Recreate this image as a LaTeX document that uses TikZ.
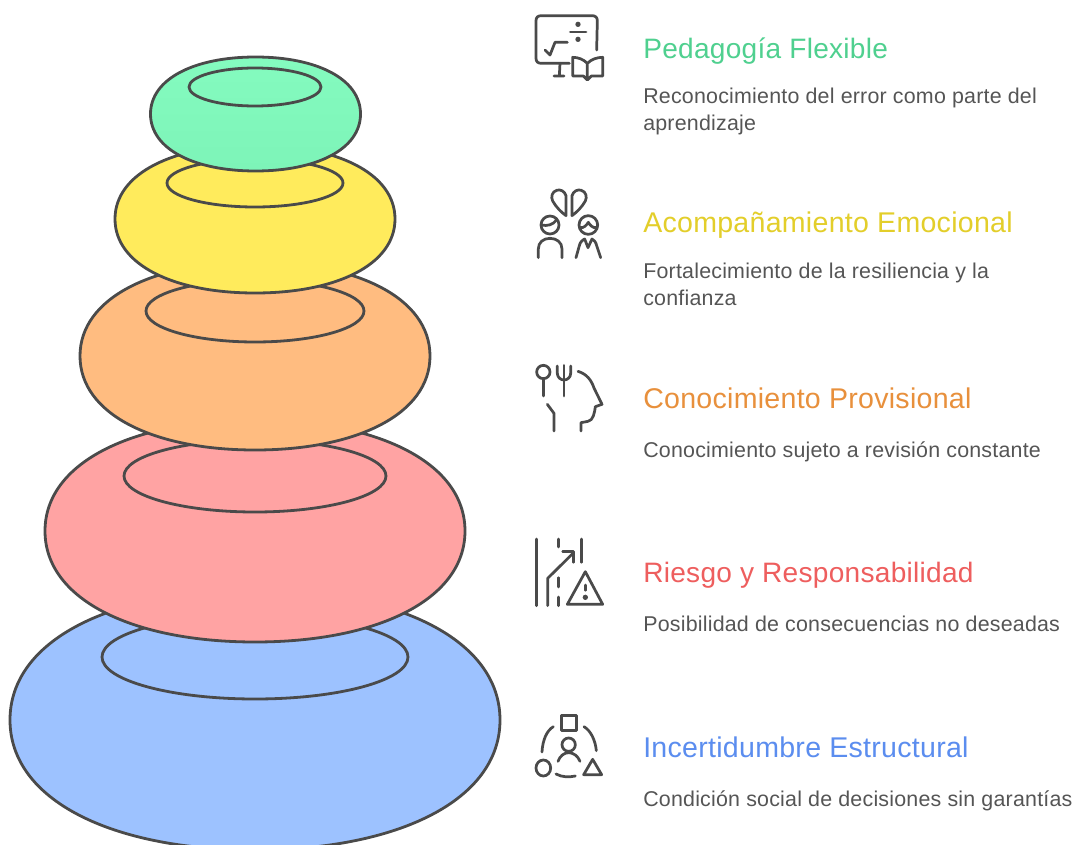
\documentclass[tikz,border=0pt]{standalone}
\usepackage{fontspec}
\setmainfont{Liberation Sans}
\newfontfamily\titlefont[LetterSpace=1.0]{Liberation Sans}
\newfontfamily\bodyfont[LetterSpace=1.0]{Liberation Sans}
\definecolor{cGreen}{HTML}{84FBBF}
\definecolor{cGreenB}{HTML}{7DF4B8}
\definecolor{cYellow}{HTML}{FFEB5C}
\definecolor{cOrange}{HTML}{FFBC80}
\definecolor{cRed}{HTML}{FFA3A3}
\definecolor{cBlue}{HTML}{9DC2FF}
\definecolor{tGreen}{HTML}{4FD08F}
\definecolor{tYellow}{HTML}{E3CE2A}
\definecolor{tOrange}{HTML}{E8903C}
\definecolor{tRed}{HTML}{EE5E5E}
\definecolor{tBlue}{HTML}{5B8DEF}
\definecolor{ink}{HTML}{4A4A4A}
\definecolor{body}{HTML}{555555}
\tikzset{
  ring/.style={draw=ink,line width=2.1pt,line join=round},
  ttl/.style={anchor=base west,inner sep=0pt,font=\titlefont\fontsize{21.4}{24}\selectfont},
  ttlb/.style={anchor=base west,inner sep=0pt,font=\titlefont\fontsize{21.05}{24}\selectfont},
  txt/.style={anchor=base west,inner sep=0pt,text=body,font=\bodyfont\fontsize{16.05}{19.5}\selectfont},
  ico/.style={draw=ink,line width=2.05pt,line cap=round,line join=round},
  icon/.style={x=0.25pt,y=-0.25pt,ico},
}
\newcommand{\blob}[5]{%
  \fill[#5] ({#1-#3},#2) .. controls ({#1-#3},{#2-0.62*#4}) and ({#1-0.58*#3},{#2-#4}) .. (#1,{#2-#4})
   .. controls ({#1+0.58*#3},{#2-#4}) and ({#1+#3},{#2-0.62*#4}) .. ({#1+#3},#2)
   .. controls ({#1+#3},{#2+0.62*#4}) and ({#1+0.58*#3},{#2+#4}) .. (#1,{#2+#4})
   .. controls ({#1-0.58*#3},{#2+#4}) and ({#1-#3},{#2+0.62*#4}) .. ({#1-#3},#2) -- cycle;
  \draw[ring] ({#1-#3},#2) .. controls ({#1-#3},{#2-0.62*#4}) and ({#1-0.58*#3},{#2-#4}) .. (#1,{#2-#4})
   .. controls ({#1+0.58*#3},{#2-#4}) and ({#1+#3},{#2-0.62*#4}) .. ({#1+#3},#2)
   .. controls ({#1+#3},{#2+0.62*#4}) and ({#1+0.58*#3},{#2+#4}) .. (#1,{#2+#4})
   .. controls ({#1-0.58*#3},{#2+#4}) and ({#1-#3},{#2+0.62*#4}) .. ({#1-#3},#2) -- cycle;
}
\begin{document}
\begin{tikzpicture}[x=0.75pt,y=-0.75pt]
\useasboundingbox (0,0) rectangle (1075,845);
\fill[white] (0,0) rectangle (1075,845);
\begin{scope}
\clip (0,0) rectangle (1075,845);
\blob{255}{720}{245}{130}{cBlue}
\draw[ring] (255,657) ellipse [x radius=153,y radius=42];
\blob{255}{531}{210}{111}{cRed}
\draw[ring] (255,476) ellipse [x radius=131,y radius=36];
\blob{255}{356}{175}{94}{cOrange}
\draw[ring] (255,311) ellipse [x radius=109,y radius=31];
\blob{255}{219}{140}{74}{cYellow}
\draw[ring] (255,183) ellipse [x radius=88,y radius=24];
\blob{255.5}{114}{105}{57}{top color=cGreen,middle color=cGreen,bottom color=cGreenB}
\draw[ring] (255,87) ellipse [x radius=66,y radius=19];
\end{scope}
% texts
\node[ttlb,text=tGreen] (t1) at (643,59) {Pedagogía Flexible};
\node[txt] (b1a) at (643,104) {Reconocimiento del error como parte del};
\node[txt] (b1b) at (643,131) {aprendizaje};
\node[ttl,text=tYellow] (t2) at (643,233) {Acompañamiento Emocional};
\node[txt] (b2a) at (643,278) {Fortalecimiento de la resiliencia y la};
\node[txt] (b2b) at (643,305) {confianza};
\node[ttl,text=tOrange] (t3) at (643,408) {Conocimiento Provisional};
\node[txt] (b3) at (643,457) {Conocimiento sujeto a revisión constante};
\node[ttlb,text=tRed] (t4) at (643,582) {Riesgo y Responsabilidad};
\node[txt] (b4) at (643,631) {Posibilidad de consecuencias no deseadas};
\node[ttl,text=tBlue] (t5) at (643,757) {Incertidumbre Estructural};
\node[txt] (b5) at (643,806) {Condición social de decisiones sin garantías};
% icon 1
\begin{scope}[shift={(520,0)},icon]
\draw[ico] (230,150) -- (232,62) .. controls (232,52) and (226,47) .. (216,47) -- (64,47) .. controls (54,47) and (48,52) .. (48,62) -- (48,175) .. controls (48,185) and (54,190) .. (64,190) -- (148,190);
\draw[ico] (120,190) -- (118,228) (102,228) -- (132,228);
\draw[ico] (151,96) -- (198,96);
\fill[ink] (174,73) circle (8) (174,118) circle (8);
\draw[ico] (75,150) -- (90,165) -- (105,127) -- (142,127);
\draw[ico] (202,190) .. controls (190,178) and (175,172) .. (158,172) -- (158,228) -- (190,228) -- (202,240) -- (214,228) -- (248,228) -- (248,172) .. controls (231,172) and (214,178) .. (202,190) -- (202,230);
\end{scope}
% icon 2
\begin{scope}[shift={(520,175)},icon]
\draw[ico] (138,122) -- (138,62) .. controls (134,48) and (120,42) .. (110,46) .. controls (96,50) and (92,66) .. (98,78) .. controls (108,96) and (124,112) .. (138,122);
\draw[ico] (156,122) -- (156,62) .. controls (160,48) and (174,42) .. (184,46) .. controls (198,50) and (202,66) .. (196,78) .. controls (186,96) and (170,112) .. (156,122);
\draw[ico] (90,150) circle (27);
\draw[ico] (65,150) .. controls (80,154) and (100,150) .. (110,134);
\draw[ico] (205,150) circle (28);
\draw[ico] (180,158) .. controls (192,160) and (200,150) .. (205,142) .. controls (210,150) and (218,160) .. (230,158);
\draw[ico] (55,248) -- (55,222) .. controls (55,202) and (70,190) .. (90,190) .. controls (110,190) and (126,202) .. (126,222) -- (126,248);
\draw[ico] (168,248) -- (178,212) .. controls (180,200) and (190,194) .. (194,192) -- (204,218) -- (216,192) .. controls (222,194) and (228,202) .. (230,212) -- (242,248);
\end{scope}
% icon 3
\begin{scope}[shift={(520,350)},icon]
\draw[ico] (70,66) circle (20);
\draw[ico] (70,86) -- (70,138);
\draw[ico] (132,46) -- (132,138);
\draw[ico] (112,48) -- (112,70) .. controls (112,82) and (122,90) .. (132,90) .. controls (142,90) and (152,82) .. (152,70) -- (152,48);
\draw[ico] (174,64) .. controls (200,72) and (214,90) .. (222,114) -- (246,163) -- (226,170) .. controls (224,186) and (220,212) .. (204,214) -- (183,218) -- (183,243);
\draw[ico] (82,163) -- (102,190) -- (102,243);
\end{scope}
% icon 4
\begin{scope}[shift={(520,525)},icon]
\draw[ico] (50,42) -- (50,242);
\draw[ico] (115,42) -- (115,66);
\draw[ico] (115,158) -- (115,186) (115,216) -- (115,242);
\draw[ico] (185,42) -- (185,112);
\draw[ico] (83,242) -- (83,160) -- (160,84);
\draw[ico] (128,80) -- (160,80) -- (160,112);
\draw[ico] (196,140) -- (248,238) -- (142,238) -- cycle;
\draw[ico] (196,180) -- (196,196);
\fill[ink] (196,217) circle (8);
\end{scope}
% icon 5
\begin{scope}[shift={(520,700)},icon]
\draw[ico] (124,46) rectangle (170,92);
\draw[ico] (70,204) ellipse (22 and 24);
\draw[ico] (218,178) -- (245,224) -- (191,224) -- cycle;
\draw[ico] (146,134) circle (20);
\draw[ico] (114,184) .. controls (120,168) and (132,158) .. (146,158) .. controls (160,158) and (174,168) .. (180,184);
\draw[ico] (100,80) .. controls (80,92) and (68,120) .. (66,156);
\draw[ico] (192,80) .. controls (212,92) and (226,120) .. (229,152);
\draw[ico] (108,222) .. controls (126,232) and (148,232) .. (166,228);
\end{scope}
\end{tikzpicture}
\end{document}
